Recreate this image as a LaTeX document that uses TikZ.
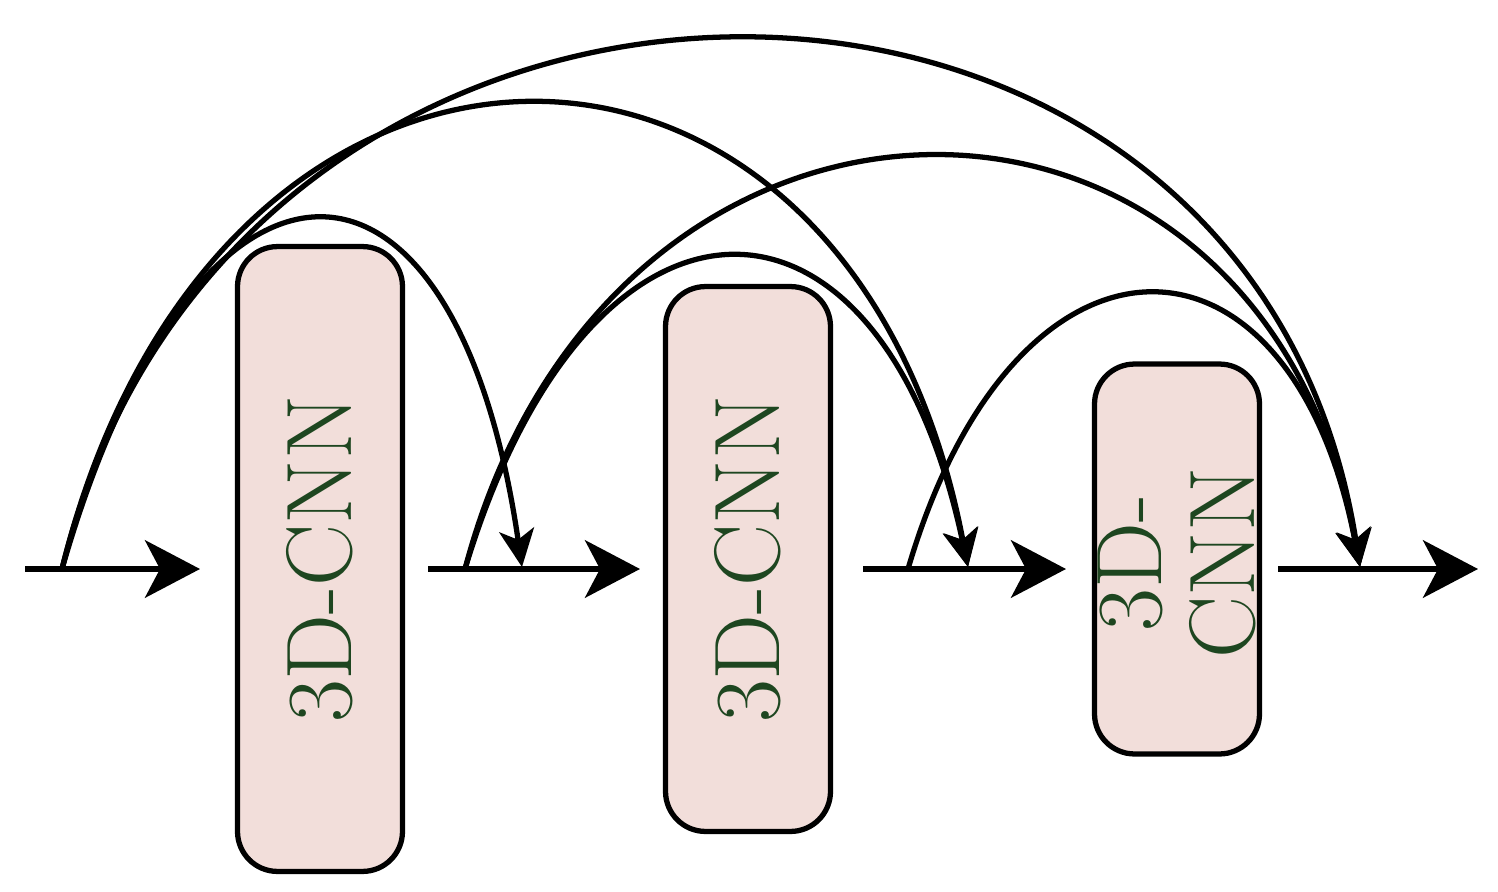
\documentclass[tikz,border=0pt]{standalone}
\usetikzlibrary{arrows.meta}
\definecolor{boxfill}{HTML}{F2DEDA}
\definecolor{txt}{HTML}{1E4620}
\begin{document}
\begin{tikzpicture}[x=0.02cm,y=-0.02cm,
  box/.style={draw,line width=3pt,fill=boxfill,rounded corners=0.8cm,inner sep=0pt},
  lbl/.style={text=txt,rotate=90,font=\fontsize{53}{53}\selectfont,align=center},
  main/.style={line width=3.2pt,-{Stealth[length=1.1cm,width=1.15cm,inset=0.3cm]}},
  arc/.style={line width=3pt,-{Stealth[length=0.75cm,width=0.7cm,inset=0.2cm]}}]
\useasboundingbox (0,0) rectangle (1498,892);
\node[box,minimum width=3.3cm,minimum height=12.5cm] (b1) at (320,559) {};
\node[box,minimum width=3.3cm,minimum height=10.9cm] (b2) at (748,559) {};
\node[box,minimum width=3.3cm,minimum height=7.8cm] (b3) at (1177,559) {};
\node[lbl] at (b1) {3D-CNN};
\node[lbl] at (b2) {3D-CNN};
\node[lbl] at (1177,563) {3D-\\CNN};
\coordinate (s0) at (25,569); \coordinate (e0) at (200,569);
\coordinate (s1) at (428,569); \coordinate (e1) at (640,569);
\coordinate (s2) at (863,569); \coordinate (e2) at (1066,569);
\coordinate (s3) at (1278,569); \coordinate (e3) at (1478,569);
\coordinate (a0) at (62,569); \coordinate (a1) at (465,569); \coordinate (a2) at (908,569);
\coordinate (t1) at (522,567); \coordinate (t2) at (968,567); \coordinate (t3) at (1360,567);
\draw[main] (s0) -- (e0);
\draw[main] (s1) -- (e1);
\draw[main] (s2) -- (e2);
\draw[main] (s3) -- (e3);
\draw[arc] (a0) .. controls (195,104) and (455,104) .. (t1);
\draw[arc] (a0) .. controls (215,-50) and (850,-50) .. (t2);
\draw[arc] (a0) .. controls (235,-136) and (1250,-136) .. (t3);
\draw[arc] (a1) .. controls (590,154) and (880,154) .. (t2);
\draw[arc] (a1) .. controls (610,21) and (1260,21) .. (t3);
\draw[arc] (a2) .. controls (1015,204) and (1290,204) .. (t3);
\end{tikzpicture}
\end{document}
